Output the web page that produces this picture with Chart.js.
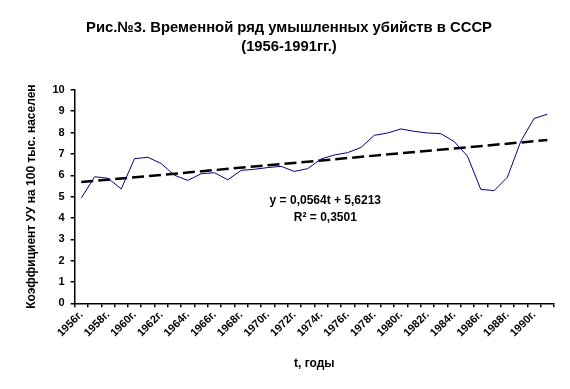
<!DOCTYPE html>
<html>
<head>
<meta charset="utf-8">
<script src="https://cdn.jsdelivr.net/npm/chart.js@4/dist/chart.umd.min.js"></script>
<style>
  body { margin: 0; background: #fff; }
  #wrap { width: 570px; height: 389px; }
</style>
</head>
<body>
<div id="wrap"><canvas id="murderChart" width="570" height="389"></canvas></div>
<script>
// years 1956..1991
const years = ['1956г.', '1957г.', '1958г.', '1959г.', '1960г.', '1961г.', '1962г.', '1963г.', '1964г.',
  '1965г.', '1966г.', '1967г.', '1968г.', '1969г.', '1970г.', '1971г.', '1972г.', '1973г.', '1974г.',
  '1975г.', '1976г.', '1977г.', '1978г.', '1979г.', '1980г.', '1981г.', '1982г.', '1983г.', '1984г.',
  '1985г.', '1986г.', '1987г.', '1988г.', '1989г.', '1990г.', '1991г.'];

// rate per 100k population
const murderRate = [4.93, 5.93, 5.86, 5.36, 6.78, 6.84, 6.55, 6.0, 5.76,
  6.07, 6.12, 5.79, 6.23, 6.28, 6.36, 6.42, 6.18, 6.31, 6.76,
  6.95, 7.06, 7.3, 7.87, 7.98, 8.17, 8.06, 7.98, 7.95, 7.58,
  6.9, 5.34, 5.28, 5.91, 7.58, 8.66, 8.86];

// linear trend, values at first and last year
const trendEnds = [5.68, 7.65];

const yTicks = [0, 1, 2, 3, 4, 5, 6, 7, 8, 9, 10];
const titleLines = ['Рис.№3. Временной ряд умышленных убийств в СССР', '(1956-1991гг.)'];
const trendText = ['y = 0,0564t + 5,6213', 'R² = 0,3501'];

const trendData = years.map((y, i) => i === 0 ? trendEnds[0] : (i === years.length - 1 ? trendEnds[1] : null));

const FONT = '"Liberation Sans", Arial, sans-serif';

const trendLabel = {
  id: 'trendLabel',
  afterDatasetsDraw(chart) {
    const { ctx, scales } = chart;
    const cx = (chart.chartArea.left + chart.chartArea.right) / 2 + 11;
    const cy = scales.y.getPixelForValue(4.8);
    ctx.save();
    ctx.fillStyle = '#000';
    ctx.font = 'bold 12px ' + FONT;
    ctx.textAlign = 'center';
    ctx.textBaseline = 'middle';
    ctx.fillText(trendText[0], cx, cy);
    ctx.fillText(trendText[1], cx, cy + 17);
    ctx.restore();
  }
};

new Chart(document.getElementById('murderChart').getContext('2d'), {
  type: 'line',
  data: {
    labels: years,
    datasets: [{
      label: 'Коэффициент',
      data: murderRate,
      borderColor: '#000080',
      borderWidth: 1,
      pointRadius: 0,
      tension: 0,
      fill: false
    }, {
      label: 'Тренд',
      data: trendData,
      spanGaps: true,
      borderColor: '#000',
      borderWidth: 2.5,
      borderDash: [12, 5],
      pointRadius: 0,
      fill: false
    }]
  },
  options: {
    responsive: false,
    animation: false,
    layout: { padding: { left: 24, right: 16, top: 0, bottom: 18 } },
    plugins: {
      legend: { display: false },
      tooltip: { enabled: false },
      title: {
        display: true,
        text: titleLines,
        color: '#000',
        font: { family: FONT, size: 14.8, weight: 'bold', lineHeight: 1.28 },
        padding: { top: 18, bottom: 34 }
      }
    },
    scales: {
      x: {
        type: 'category',
        offset: true,
        border: { color: '#000', width: 1.5 },
        grid: { offset: true, drawOnChartArea: false, color: '#000', tickLength: 4, lineWidth: 1.5 },
        ticks: {
          autoSkip: false,
          maxRotation: 45,
          minRotation: 45,
          color: '#000',
          padding: 1,
          font: { family: FONT, size: 11, weight: 'bold' },
          callback: function(val, idx) { return idx % 2 === 0 ? years[idx] : ''; }
        },
        title: {
          display: true,
          text: 't, годы',
          color: '#000',
          font: { family: FONT, size: 12, weight: 'bold' },
          padding: { top: 16, bottom: 0 }
        }
      },
      y: {
        min: 0,
        max: 10,
        border: { color: '#000', width: 1.5 },
        grid: { drawOnChartArea: false, color: '#000', tickLength: 4, lineWidth: 1.5 },
        afterBuildTicks: function(axis) { axis.ticks = yTicks.map(v => ({ value: v })); },
        ticks: {
          color: '#000',
          padding: 6,
          font: { family: FONT, size: 11, weight: 'bold' }
        },
        title: {
          display: true,
          text: 'Коэффициент УУ на 100 тыс. населен',
          color: '#000',
          font: { family: FONT, size: 12, weight: 'bold' },
          padding: { top: 0, bottom: 8 }
        }
      }
    }
  },
  plugins: [trendLabel]
});
</script>
</body>
</html>
